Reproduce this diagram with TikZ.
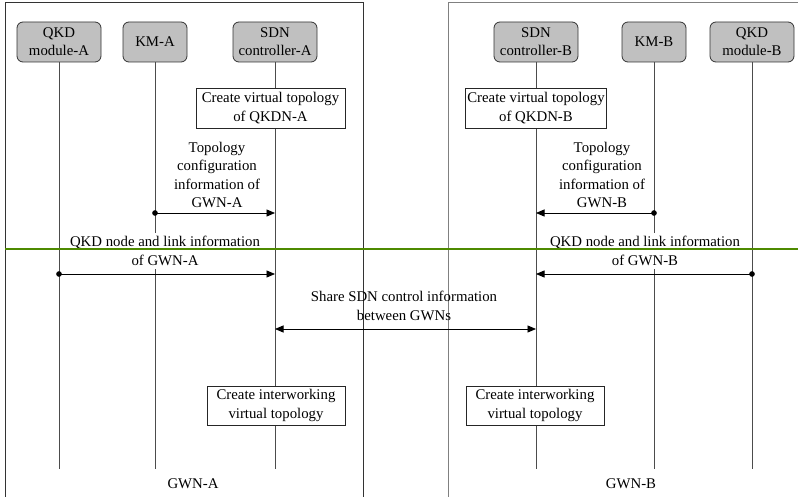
\documentclass[tikz,border=0pt]{standalone}
\usepackage{fontspec}
\setmainfont{Liberation Serif}
\usetikzlibrary{arrows.meta}
\definecolor{divider}{RGB}{78,138,0}
\definecolor{boxgray}{RGB}{192,192,192}
\begin{document}
\begin{tikzpicture}[x=1pt,y=-1pt,
  every node/.style={font=\fontsize{14.8}{18.3}\selectfont, align=center},
  actor/.style={draw=black!80, fill=boxgray, rounded corners=6pt, minimum height=40pt, inner sep=1pt, line width=0.8pt},
  action/.style={draw=black!85, fill=white, minimum height=40pt, inner sep=2pt, line width=0.8pt},
  life/.style={draw=black!70, line width=0.9pt},
  msg/.style={line width=0.8pt, shorten <=-2.75pt, {Circle[length=5.5pt]}-{Triangle[length=8.5pt,width=7pt]}},
  both/.style={line width=0.8pt, {Triangle[length=8.5pt,width=7pt]}-{Triangle[length=8.5pt,width=7pt]}},
  msglabel/.style={fill=white, inner sep=3.5pt},
  frameA/.style={draw=black!80, line width=0.8pt},
  frameB/.style={draw=black!50, line width=0.9pt}
]
\useasboundingbox (0,0) rectangle (798,497);

% gateway frames (open at the bottom)
\draw[frameA] (5,497) -- (5,2) -- (363,2) -- (363,497);
\draw[frameB] (448,497) -- (448,2) -- (798,2);

% participants
\node[actor, minimum width=84pt] (qkda) at (59,42) {QKD\\module-A};
\node[actor, minimum width=64pt] (kma)  at (155,42) {KM-A};
\node[actor, minimum width=84pt] (sdna) at (275,42) {SDN\\controller-A};
\node[actor, minimum width=84pt] (sdnb) at (536,42) {SDN\\controller-B};
\node[actor, minimum width=64pt] (kmb)  at (654,42) {KM-B};
\node[actor, minimum width=84pt] (qkdb) at (752,42) {QKD\\module-B};

% lifeline ends
\coordinate (qkdaE) at (59,469);
\coordinate (kmaE)  at (155,469);
\coordinate (sdnaE) at (275,469);
\coordinate (sdnbE) at (536,469);
\coordinate (kmbE)  at (654,469);
\coordinate (qkdbE) at (752,469);

\foreach \a in {qkda,kma,sdna,sdnb,kmb,qkdb}
  \draw[life] (\a.south) -- (\a E);

% message end points on the lifelines
\coordinate (kmaT)  at (155,213);
\coordinate (sdnaT) at (275,213);
\coordinate (kmbT)  at (654,213);
\coordinate (sdnbT) at (536,213);
\coordinate (qkdaL) at (59,274);
\coordinate (sdnaL) at (275,274);
\coordinate (qkdbL) at (752,274);
\coordinate (sdnbL) at (536,274);
\coordinate (sdnaS) at (275,329);
\coordinate (sdnbS) at (536,329);

% local actions
\node[action, minimum width=149pt] (vtA) at (270.5,108) {Create virtual topology\\of QKDN-A};
\node[action, minimum width=140pt] (vtB) at (536,108) {Create virtual topology\\of QKDN-B};
\node[action, minimum width=138pt, minimum height=39pt] (iwA) at (276,405.5) {Create interworking\\virtual topology};
\node[action, minimum width=138pt, minimum height=39pt] (iwB) at (535,405.5) {Create interworking\\virtual topology};

% messages
\node[msglabel] (tA) at (217,175) {Topology\\configuration\\information of\\GWN-A};
\draw[msg] (kmaT) -- (sdnaT);
\node[msglabel] (tB) at (602,175) {Topology\\configuration\\information of\\GWN-B};
\draw[msg] (kmbT) -- (sdnbT);

\node[msglabel] (lA) at (165,251) {QKD node and link information\\of GWN-A};
\draw[msg] (qkdaL) -- (sdnaL);
\node[msglabel] (lB) at (645,251) {QKD node and link information\\of GWN-B};
\draw[msg] (qkdbL) -- (sdnbL);

\node (sh) at (404,306) {Share SDN control information\\between GWNs};
\draw[both] (sdnaS) -- (sdnbS);

% divider
\coordinate (divL) at (5,249);
\coordinate (divR) at (798,249);
\draw[divider, line width=2pt] (divL) -- (divR);

% gateway names
\node (gA) at (193,484) {GWN-A};
\node (gB) at (631,484) {GWN-B};
\end{tikzpicture}
\end{document}
